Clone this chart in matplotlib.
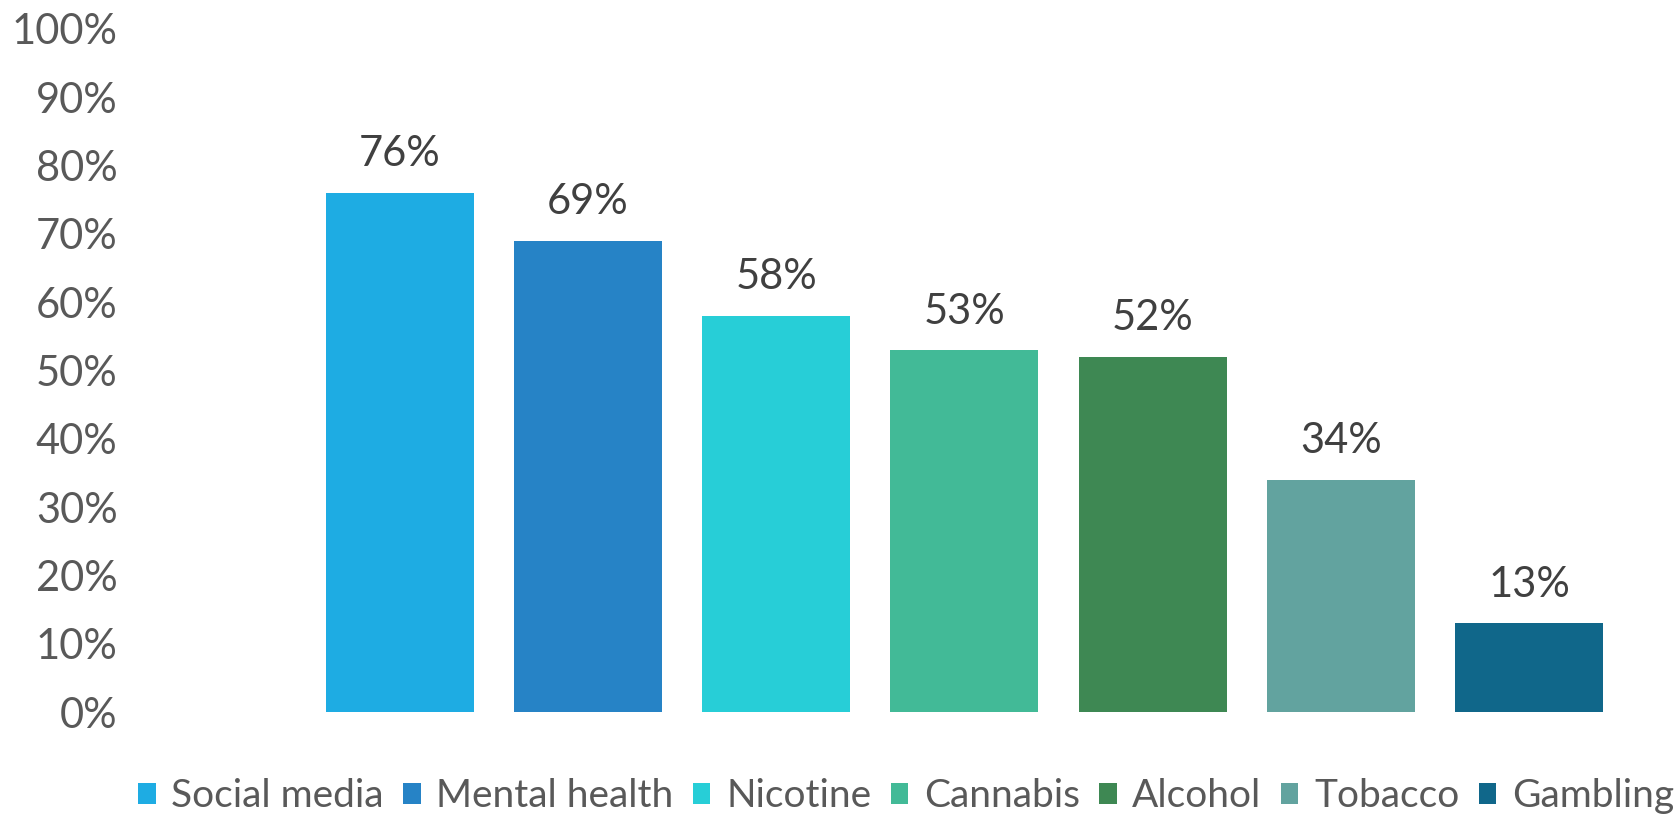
import numpy as np
import matplotlib
matplotlib.use('Agg')
import matplotlib.pyplot as plt
from matplotlib.patches import Patch

#%% data
categories = ['Social media', 'Mental health', 'Nicotine', 'Cannabis',
              'Alcohol', 'Tobacco', 'Gambling']
values = [76, 69, 58, 53, 52, 34, 13]
colours = ['#1EACE3', '#2683C6', '#27CED7', '#42BA97',
           '#3E8853', '#62A39F', '#10678A']
yticks = [0, 10, 20, 30, 40, 50, 60, 70, 80, 90, 100]
ytick_labels = ['%d%%' % t for t in yticks]

plt.rcParams['font.family'] = ['Lato', 'DejaVu Sans']

#%% plot
fig = plt.figure(figsize=(16.78, 8.15), dpi=100)
W, H = 1678.0, 815.0
ax = fig.add_axes([130 / W, (H - 712) / H, (1660 - 130) / W, (712 - 29) / H])

x = np.arange(len(categories))
bars = ax.bar(x, values, width=0.786, color=colours)

for xi, v in zip(x, values):
    ax.annotate('%d%%' % v, (xi, v), xytext=(0, 14), textcoords='offset points',
                ha='center', va='bottom', fontsize=30, color='#404040')

ax.set_xlim(-1.434, 6.696)
ax.set_ylim(0, 100)
ax.set_yticks(yticks)
ax.set_yticklabels(ytick_labels)
ax.set_xticks([])
ax.tick_params(axis='y', length=0, pad=9, labelsize=30, labelcolor='#595959')
for s in ax.spines.values():
    s.set_visible(False)

# legend along the bottom
handles = [Patch(facecolor=c, edgecolor='none') for c in colours]
fig.legend(handles, categories, loc='center', bbox_to_anchor=(906 / W, 19 / H),
           ncol=7, frameon=False, fontsize=28, labelcolor='#595959',
           handlelength=0.45, handleheight=0.45, handletextpad=0.4,
           columnspacing=0.5, borderaxespad=0, borderpad=0)

fig.savefig('out.png', dpi=100)
